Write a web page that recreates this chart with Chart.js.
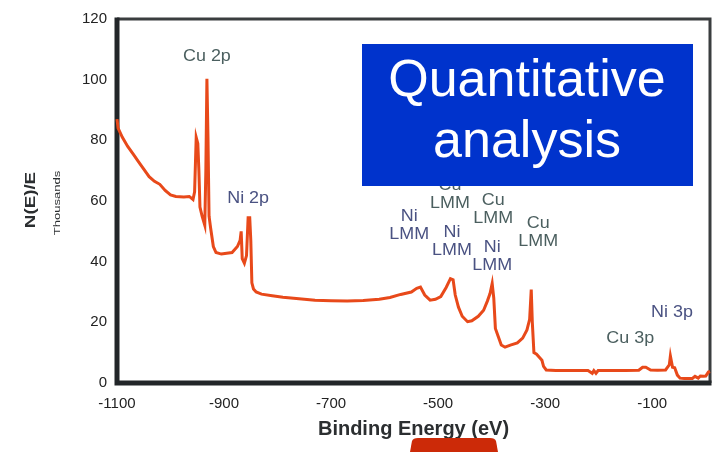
<!DOCTYPE html>
<html lang="en">
<head>
  <meta charset="UTF-8">
  <title>XPS survey spectrum</title>
  <script src="https://cdn.jsdelivr.net/npm/chart.js"></script>
  <style>
    body { margin: 0; background: #fff; }
  </style>
</head>
<body>
  <canvas id="xpsChart" width="722" height="452"></canvas>

  <script>
    // binding energy (eV) and N(E)/E (thousands)
    const energy = [
      -1100, -1098, -1090, -1080, -1070, -1060, -1050, -1040, -1030, -1020, -1010, -1000,
      -990, -975, -965, -958, -955, -952, -949, -947, -945, -941, -936, -934, -932, -930,
      -928, -925, -920, -915, -905, -895, -885, -875, -870, -868, -866, -862, -858, -855,
      -852, -850, -848, -845, -840, -830, -810, -790, -760, -730, -700, -670, -640, -610,
      -590, -570, -550, -540, -533, -525, -515, -505, -495, -485, -477, -472, -468, -462,
      -455, -445, -437, -425, -415, -408, -403, -399, -396, -393, -388, -382, -375, -365,
      -352, -342, -334, -329, -326, -324, -321, -316, -311, -306, -303, -298, -280, -250,
      -220, -212, -209, -205, -201, -197, -150, -125, -118, -112, -103, -90, -75, -68,
      -66, -62, -58, -53, -48, -40, -25, -20, -14, -10, -4, 0, 5, 8
    ];
    const counts = [
      87, 84, 81, 78, 75.5, 73, 70.5, 68, 66.5, 65.5, 63.5, 62,
      61.5, 61.3, 61.5, 60.5, 63, 81, 79, 70, 58, 55, 52, 70, 100.3, 81,
      55, 51, 45, 43, 42.5, 42.8, 43, 45, 47, 50, 41, 39.5, 42, 54.5,
      54.5, 47, 33, 31, 30, 29.3, 28.8, 28.3, 27.8, 27.3, 27.1, 27, 27.2, 27.6,
      28.2, 29.2, 30, 31.2, 31.6, 29, 27.3, 27.6, 28.5, 31.5, 34.4, 34, 29, 25,
      22, 20.2, 20.5, 22, 24, 27, 29.5, 32.8, 28, 18, 15.5, 12.5, 11.8, 12.5,
      13.2, 14.8, 17.5, 21, 30.8, 20, 10, 9.5, 8.5, 7.5, 5.5, 4.3, 4.1, 4.1,
      4.1, 3.2, 4.1, 3.2, 4.1, 4.1, 4.1, 4.2, 5.2, 5.2, 4.3, 4.2, 4.3, 6,
      8.9, 5.2, 5, 2.6, 1.6, 1.5, 1.5, 2.2, 1.6, 2.3, 2.2, 2.3, 3.6, 3.8
    ];

    const xTicks = [-1100, -900, -700, -500, -300, -100];
    const yTicks = [0, 20, 40, 60, 80, 100, 120];

    // peak labels: text lines, anchor energy, anchor value, element
    const peakText = [['Cu 2p'], ['Ni 2p'], ['Ni', 'LMM'], ['Cu', 'LMM'], ['Ni', 'LMM'],
                      ['Cu', 'LMM'], ['Ni', 'LMM'], ['Cu', 'LMM'], ['Cu 3p'], ['Ni 3p']];
    const peakEnergy = [-932, -855, -554, -478, -474, -397, -399, -313, -141, -63];
    const peakValue = [107.5, 60.7, 55, 65, 49.5, 60, 44.6, 52.5, 14.8, 23.3];
    const peakElement = ['Cu', 'Ni', 'Ni', 'Cu', 'Ni', 'Cu', 'Ni', 'Cu', 'Cu', 'Ni'];

    const FONT = "'Liberation Sans', Arial, sans-serif";

    const points = energy.map((e, i) => ({ x: e, y: counts[i] }));

    // frame behind the curve, labels and the boxes on top of it
    const decor = {
      id: 'decor',
      beforeDatasetsDraw(chart) {
        const { ctx, chartArea: a } = chart;
        ctx.save();
        ctx.strokeStyle = '#3a3d3f';
        ctx.lineWidth = 3;
        ctx.beginPath();
        ctx.moveTo(a.left, a.top);
        ctx.lineTo(a.right, a.top);
        ctx.lineTo(a.right, a.bottom);
        ctx.stroke();
        ctx.strokeStyle = '#222629';
        ctx.lineWidth = 5;
        ctx.beginPath();
        ctx.moveTo(a.left, a.top - 1.5);
        ctx.lineTo(a.left, a.bottom);
        ctx.lineTo(a.right + 1.5, a.bottom);
        ctx.stroke();
        ctx.restore();
      },
      afterDatasetsDraw(chart) {
        const { ctx, chartArea: a, scales: { x, y } } = chart;
        ctx.save();

        // peak labels
        ctx.font = '16px ' + FONT;
        ctx.textAlign = 'center';
        ctx.textBaseline = 'middle';
        peakText.forEach((lines, i) => {
          ctx.fillStyle = peakElement[i] === 'Cu' ? '#4b5f5f' : '#4a5282';
          const px = x.getPixelForValue(peakEnergy[i]);
          const py = y.getPixelForValue(peakValue[i]);
          lines.forEach((t, j) => {
            ctx.save();
            ctx.translate(px, py + j * 18);
            ctx.scale(1.12, 1);
            ctx.fillText(t, 0, 0);
            ctx.restore();
          });
        });

        // blue caption box
        ctx.fillStyle = '#0033cc';
        ctx.fillRect(362, 44, 331, 142);
        ctx.fillStyle = '#ffffff';
        ctx.font = '52px ' + FONT;
        ctx.fillText('Quantitative', 527, 82);
        ctx.fillText('analysis', 527, 143);

        // axis titles
        ctx.fillStyle = '#2b2e30';
        ctx.font = 'bold 20px ' + FONT;
        ctx.fillText('Binding Energy (eV)', (a.left + a.right) / 2, 429);

        ctx.save();
        ctx.translate(31, 200);
        ctx.rotate(-Math.PI / 2);
        ctx.scale(1.25, 1);
        ctx.font = 'bold 15px ' + FONT;
        ctx.fillText('N(E)/E', 0, 0);
        ctx.restore();

        ctx.save();
        ctx.translate(58, 203);
        ctx.rotate(-Math.PI / 2);
        ctx.scale(1.45, 1);
        ctx.font = '9px ' + FONT;
        ctx.fillText('Thousands', 0, 0);
        ctx.restore();

        // cropped red tab at the bottom edge
        ctx.fillStyle = '#cc2a08';
        ctx.beginPath();
        ctx.moveTo(410, 452);
        ctx.lineTo(412, 441);
        ctx.quadraticCurveTo(413, 438, 418, 438);
        ctx.lineTo(490, 438);
        ctx.quadraticCurveTo(495, 438, 496, 441);
        ctx.lineTo(498, 452);
        ctx.closePath();
        ctx.fill();

        ctx.restore();
      }
    };

    const ctx = document.getElementById('xpsChart').getContext('2d');
    new Chart(ctx, {
      type: 'line',
      data: {
        datasets: [{
          data: points,
          borderColor: '#e8491a',
          borderWidth: 3,
          pointRadius: 0,
          tension: 0,
          fill: false,
          clip: false
        }]
      },
      options: {
        responsive: false,
        animation: false,
        devicePixelRatio: 1,
        layout: { padding: { left: 0, top: 17, right: 12, bottom: 0 } },
        plugins: {
          legend: { display: false },
          tooltip: { enabled: false }
        },
        scales: {
          x: {
            type: 'linear',
            min: -1100,
            max: 8,
            grid: { display: false, drawTicks: false },
            border: { display: false },
            afterBuildTicks: (s) => { s.ticks = xTicks.map(v => ({ value: v })); },
            afterFit: (s) => { s.height = 69; },
            ticks: {
              padding: 12,
              maxRotation: 0,
              autoSkip: false,
              color: '#222',
              font: { family: FONT, size: 15 },
              callback: (v) => String(v)
            }
          },
          y: {
            min: 0,
            max: 120,
            grid: { display: false, drawTicks: false },
            border: { display: false },
            afterBuildTicks: (s) => { s.ticks = yTicks.map(v => ({ value: v })); },
            afterFit: (s) => { s.width = 117; },
            ticks: {
              padding: 10,
              color: '#222',
              font: { family: FONT, size: 15 },
              callback: (v) => String(v)
            }
          }
        }
      },
      plugins: [decor]
    });
  </script>
</body>
</html>
